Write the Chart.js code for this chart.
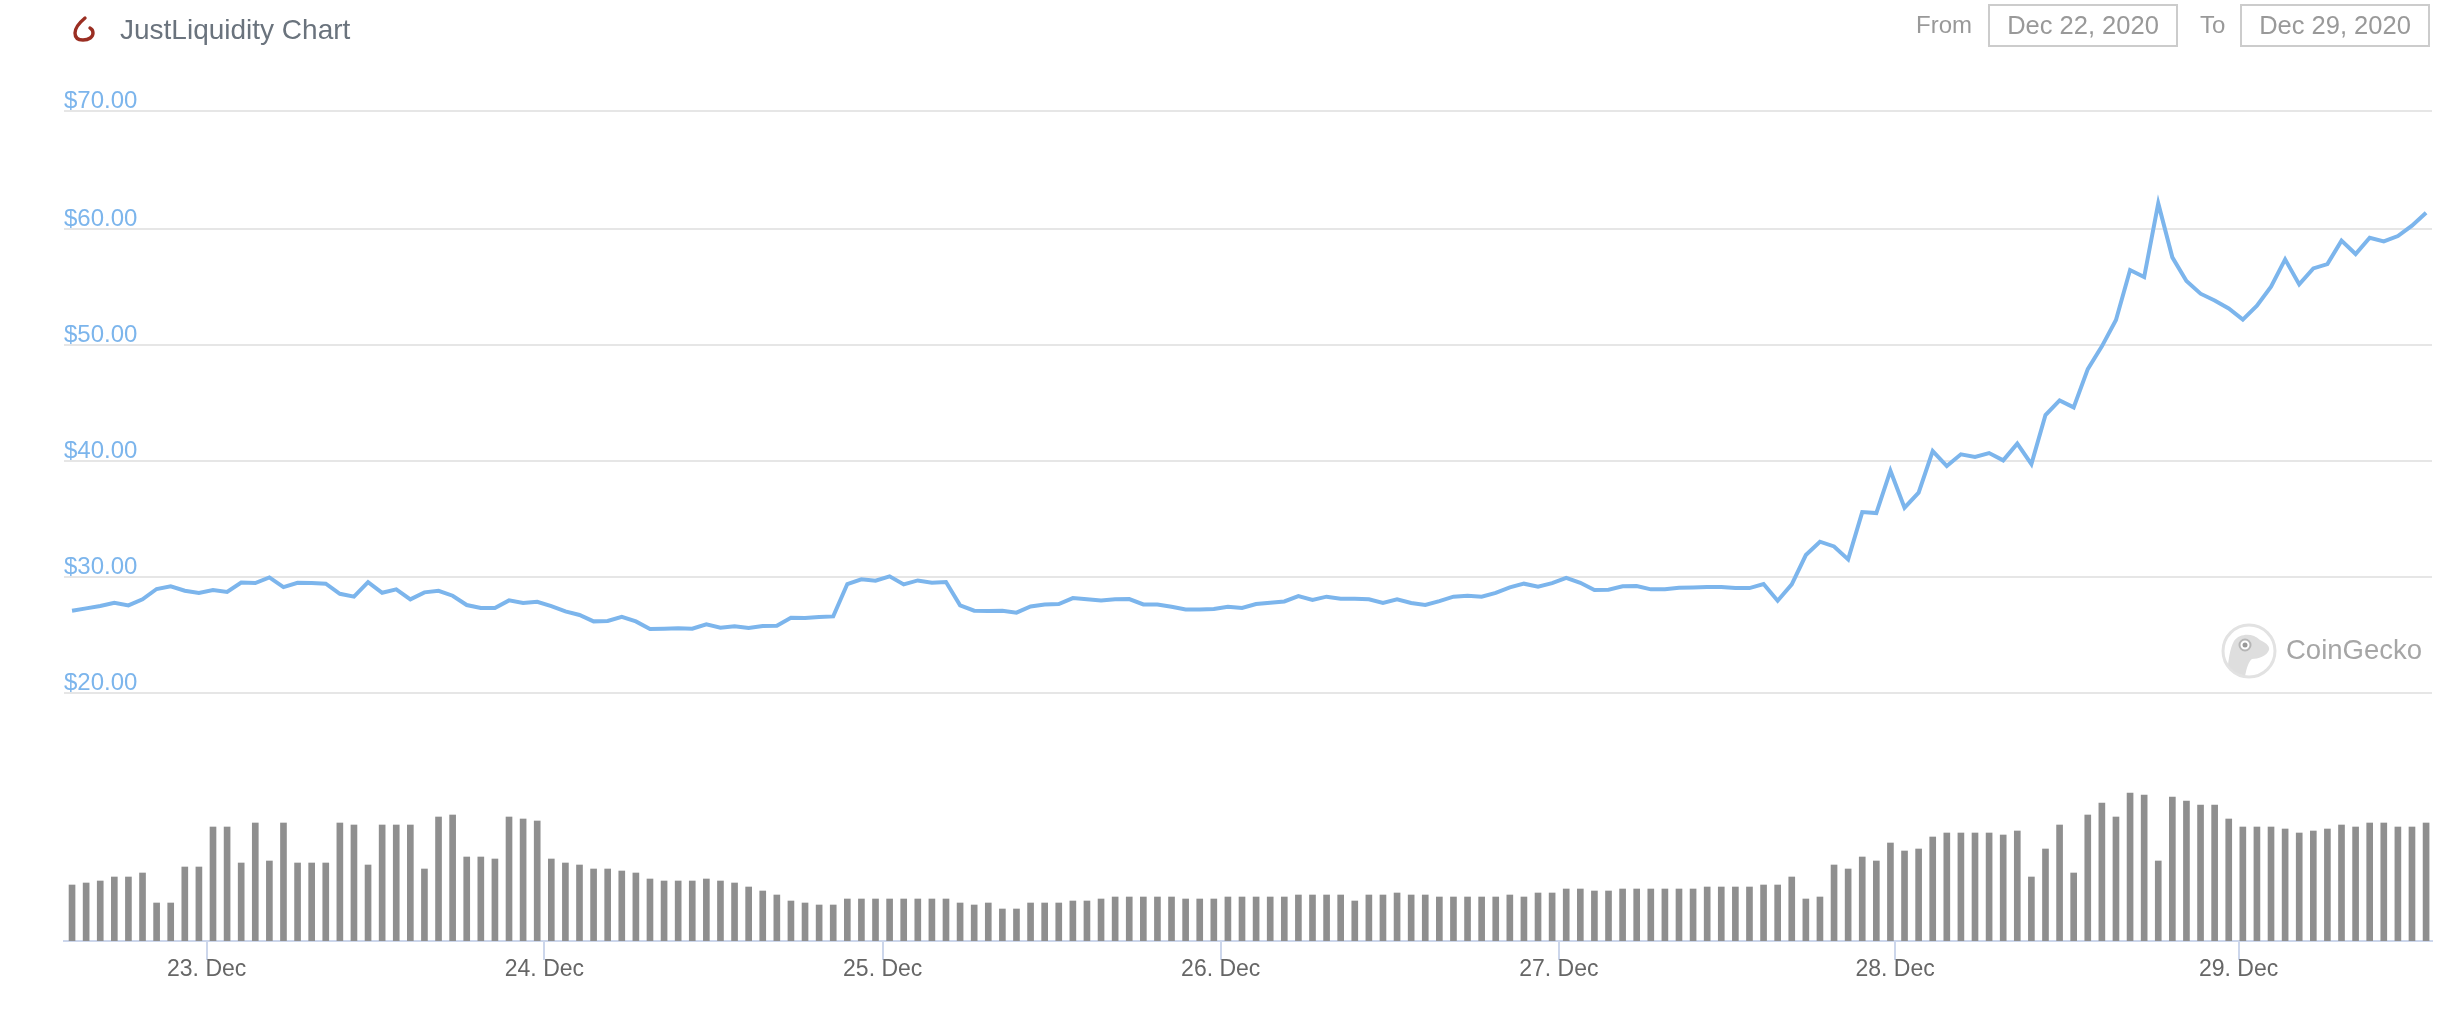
<!DOCTYPE html>
<html>
<head>
<meta charset="utf-8">
<title>JustLiquidity Chart</title>
<script src="https://cdn.jsdelivr.net/npm/chart.js@4/dist/chart.umd.min.js"></script>
<style>
  html, body { margin: 0; padding: 0; background: #fff; }
  body { width: 2464px; height: 1016px; position: relative; overflow: hidden; font-family: "Liberation Sans", sans-serif; }
  canvas { position: absolute; left: 0; top: 0; }
  .txt { position: absolute; white-space: nowrap; line-height: 1; }
  .box { position: absolute; top: 4px; height: 39px; width: 186px; border: 2px solid #ccc; color: #999; font-size: 25.5px; line-height: 39px; text-align: center; }
  svg { position: absolute; left: 0; top: 0; }
</style>
</head>
<body>
<canvas id="chart" width="2464" height="1016"></canvas>
<svg width="2464" height="1016">
  <defs><clipPath id="disc"><circle cx="2249" cy="651" r="25"></circle></clipPath></defs>
  <path d="M85 18 C79 23 75 28 75 33 C75 38 78 40 83 40 C89 40 93 37 93 33 C93 31 92 29 90 28" fill="none" stroke="#9a2e22" stroke-width="3.4" stroke-linecap="round"></path>
  <circle cx="2249" cy="651" r="26" fill="#fff" stroke="#e2e2e2" stroke-width="3"></circle>
  <path clip-path="url(#disc)" d="M2226 682 C2228 665 2229 650 2234 641 C2240 633 2253 633 2260 640 C2266 643 2270 646 2269 650 C2267 656 2258 659 2252 659 C2248 662 2246 670 2244 682 Z" fill="#dedede"></path>
  <circle cx="2245" cy="645" r="5.5" fill="#fff" stroke="#b5b5b5" stroke-width="2"></circle>
  <circle cx="2245" cy="645" r="2.5" fill="#999"></circle>
</svg>
<div class="txt" style="left:120px;top:16px;font-size:28px;color:#6a737d;">JustLiquidity Chart</div>
<div class="txt" style="left:1916px;top:13px;font-size:24px;color:#999;">From</div>
<div class="box" style="left:1988px;">Dec 22, 2020</div>
<div class="txt" style="left:2200px;top:13px;font-size:24px;color:#999;">To</div>
<div class="box" style="left:2240px;">Dec 29, 2020</div>
<div class="txt" style="left:2286px;top:636px;font-size:27.5px;color:#a6a6a6;">CoinGecko</div>
<script>
// hourly price
const prices = [
  27.07, 27.27, 27.47, 27.76, 27.53, 28.05, 28.94, 29.17, 28.79, 28.6, 28.85, 28.68,
  29.5, 29.45, 29.94, 29.1, 29.48, 29.45, 29.4, 28.53, 28.28, 29.54, 28.62, 28.91,
  28.05, 28.65, 28.79, 28.36, 27.56, 27.3, 27.3, 27.96, 27.73, 27.84, 27.47, 27.01,
  26.7, 26.15, 26.18, 26.55, 26.15, 25.49, 25.52, 25.55, 25.52, 25.89, 25.6, 25.72,
  25.57, 25.75, 25.78, 26.47, 26.44, 26.52, 26.58, 29.37, 29.77, 29.66, 30.03, 29.34,
  29.68, 29.48, 29.54, 27.53, 27.07, 27.04, 27.07, 26.9, 27.44, 27.61, 27.64, 28.16,
  28.05, 27.96, 28.05, 28.07, 27.61, 27.61, 27.41, 27.18, 27.18, 27.21, 27.41, 27.3,
  27.64, 27.76, 27.87, 28.33, 27.99, 28.28, 28.1, 28.1, 28.05, 27.73, 28.05, 27.73,
  27.56, 27.9, 28.28, 28.36, 28.28, 28.6, 29.08, 29.4, 29.14, 29.45, 29.91, 29.48,
  28.85, 28.88, 29.17, 29.2, 28.91, 28.91, 29.05, 29.08, 29.11, 29.11, 29.02, 29.02,
  29.37, 27.93, 29.34, 31.87, 33.02, 32.61, 31.49, 35.57, 35.49, 39.14, 35.95, 37.24,
  40.83, 39.54, 40.55, 40.32, 40.66, 40.03, 41.47, 39.71, 43.94, 45.2, 44.6, 47.9,
  49.86, 52.13, 56.44, 55.83, 62.18, 57.53, 55.49, 54.4, 53.82, 53.13, 52.16, 53.36,
  55.0, 57.36, 55.2, 56.58, 56.95, 58.97, 57.82, 59.22, 58.91, 59.37, 60.26, 61.38
];

// volume has no axis in the picture, so these are relative bar heights
const volumes = [
  56, 58, 60, 64, 64, 68, 38, 38, 74, 74, 114, 114,
  78, 118, 80, 118, 78, 78, 78, 118, 116, 76, 116, 116,
  116, 72, 124, 126, 84, 84, 82, 124, 122, 120, 82, 78,
  76, 72, 72, 70, 68, 62, 60, 60, 60, 62, 60, 58,
  54, 50, 46, 40, 38, 36, 36, 42, 42, 42, 42, 42,
  42, 42, 42, 38, 36, 38, 32, 32, 38, 38, 38, 40,
  40, 42, 44, 44, 44, 44, 44, 42, 42, 42, 44, 44,
  44, 44, 44, 46, 46, 46, 46, 40, 46, 46, 48, 46,
  46, 44, 44, 44, 44, 44, 46, 44, 48, 48, 52, 52,
  50, 50, 52, 52, 52, 52, 52, 52, 54, 54, 54, 54,
  56, 56, 64, 42, 44, 76, 72, 84, 80, 98, 90, 92,
  104, 108, 108, 108, 108, 106, 110, 64, 92, 116, 68, 126,
  138, 124, 148, 146, 80, 144, 140, 136, 136, 122, 114, 114,
  114, 112, 108, 110, 112, 116, 114, 118, 118, 114, 114, 118
];

// the x axis counts samples, midnight falls between samples and not quite evenly
const dayLabels = ['23. Dec', '24. Dec', '25. Dec', '26. Dec', '27. Dec', '28. Dec', '29. Dec'];
const dayTicks = [9.55, 33.51, 57.51, 81.49, 105.48, 129.33, 153.7];

// the top grid line sits a little high in the picture, hence 70.17
const priceTicks = [20, 30, 40, 50, 60, 70.17];
const priceLabels = ['$20.00', '$30.00', '$40.00', '$50.00', '$60.00', '$70.00'];

const toPoints = arr => arr.map((v, i) => ({ x: i, y: v }));

new Chart(document.getElementById('chart').getContext('2d'), {
  data: {
    datasets: [
      {
        type: 'line',
        data: toPoints(prices),
        yAxisID: 'y',
        borderColor: '#7cb5ec',
        borderWidth: 4,
        pointRadius: 0,
        tension: 0,
        order: 1,
        clip: false
      },
      {
        type: 'bar',
        data: toPoints(volumes),
        yAxisID: 'vol',
        backgroundColor: '#8f8f8f',
        barThickness: 6,
        order: 2
      }
    ]
  },
  options: {
    responsive: false,
    animation: false,
    layout: { padding: { left: 64, right: 32, top: 110, bottom: 25 } },
    plugins: { legend: { display: false }, tooltip: { enabled: false } },
    scales: {
      x: {
        type: 'linear',
        min: -0.57,
        max: 167.42,
        offset: false,
        afterBuildTicks: s => { s.ticks = dayTicks.map(d => ({ value: d })); },
        afterFit: s => { s.height = 50; },
        border: { color: '#ccd6eb', width: 2 },
        grid: { offset: false, drawOnChartArea: false, color: '#ccd6eb', lineWidth: 2, tickLength: 19 },
        ticks: {
          autoSkip: false,
          maxRotation: 0,
          padding: -4,
          color: '#666',
          font: { family: 'Liberation Sans', size: 23 },
          callback: v => dayLabels[dayTicks.indexOf(v)]
        }
      },
      y: {
        type: 'linear',
        position: 'left',
        min: -1.405,
        max: 70.235,
        afterBuildTicks: s => { s.ticks = priceTicks.map(v => ({ value: v })); },
        border: { display: false },
        grid: { color: '#e6e6e6', lineWidth: 2, drawTicks: false },
        ticks: {
          mirror: true,
          padding: 0,
          color: '#7cb5ec',
          font: { family: 'Liberation Sans', size: 24, lineHeight: 0.8 },
          // empty second line lifts the label above its grid line
          callback: v => [priceLabels[priceTicks.indexOf(v)], '']
        }
      },
      vol: {
        type: 'linear',
        position: 'right',
        min: 0,
        max: 831,
        display: false
      }
    }
  }
});
</script>
</body>
</html>
